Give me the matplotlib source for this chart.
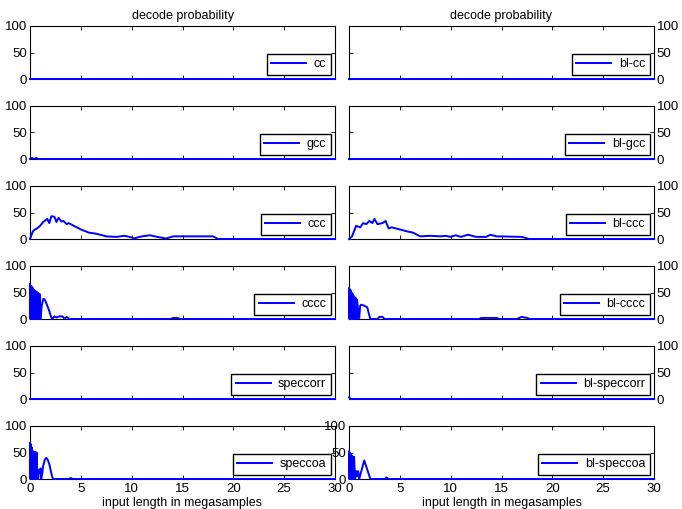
import matplotlib
matplotlib.use("Agg")
import matplotlib.pyplot as plt

plt.rcParams["font.family"] = ["Liberation Sans", "DejaVu Sans"]
plt.rcParams["font.size"] = 9

blue = '#0000FF'

# ---- data (input length in megasamples, decode probability %) ----
zero_x = [0.0, 30.0]
zero_y = [0.0, 0.0]

gcc_x = [0.0, 0.2, 0.4, 0.6, 0.8, 30.0]
gcc_y = [0.0, 2.0, 0.0, 2.0, 0.0, 0.0]

ccc_x = [0.0, 0.15, 0.3, 0.5, 0.7, 1.0, 1.3, 1.5, 1.7, 1.9, 2.1, 2.4, 2.6, 2.8, 3.1, 3.3,
         3.6, 3.8, 4.3, 5.0, 5.8, 6.5, 7.5, 8.5, 9.3, 10.0, 10.2, 11.0, 11.8, 12.5, 13.4,
         14.1, 15.0, 16.0, 17.0, 18.0, 18.5, 30.0]
ccc_y = [0.0, 8.0, 15.0, 18.0, 20.0, 25.0, 32.0, 35.0, 38.0, 30.0, 43.0, 42.0, 32.0, 40.0,
         33.0, 34.0, 28.0, 30.0, 25.0, 18.0, 12.0, 10.0, 5.0, 4.0, 6.0, 3.0, 1.0, 5.0,
         7.0, 4.0, 1.0, 5.0, 5.0, 5.0, 5.0, 5.0, 0.0, 0.0]

blccc_x = [0.0, 0.3, 0.7, 1.1, 1.4, 1.7, 2.0, 2.3, 2.5, 2.8, 3.3, 3.6, 3.9, 4.2, 5.0,
           5.8, 6.3, 7.0, 8.0, 9.0, 9.5, 10.0, 10.5, 11.0, 11.7, 12.5, 13.5, 13.9, 14.5,
           17.0, 17.7, 30.0]
blccc_y = [0.0, 5.0, 25.0, 22.0, 30.0, 28.0, 34.0, 30.0, 38.0, 28.0, 30.0, 34.0, 20.0,
           22.0, 18.0, 14.0, 12.0, 5.0, 6.0, 5.0, 6.0, 4.0, 7.0, 4.0, 8.0, 4.0, 4.0, 8.0,
           5.0, 4.0, 0.0, 0.0]

cccc_x = [0.0, 0.04, 0.08, 0.12, 0.16, 0.2, 0.24, 0.28, 0.32, 0.36, 0.4, 0.44, 0.48, 0.52,
          0.56, 0.6, 0.64, 0.68, 0.72, 0.76, 0.8, 0.84, 0.88, 0.92, 0.96, 1.0, 1.05, 1.15,
          1.3, 1.45, 1.6, 1.8, 1.9, 2.0, 2.1, 2.2, 2.4, 2.6, 2.9, 3.2, 3.4, 3.6, 3.9, 13.8,
          14.1, 14.5, 14.8, 30.0]
cccc_y = [66.0, 0.0, 63.0, 0.0, 61.0, 0.0, 59.0, 0.0, 57.0, 0.0, 55.0, 0.0, 54.0, 0.0,
          52.0, 0.0, 51.0, 0.0, 50.0, 0.0, 49.0, 0.0, 48.0, 0.0, 47.0, 0.0, 0.0, 25.0,
          38.0, 37.0, 30.0, 20.0, 15.0, 8.0, 3.0, 0.0, 5.0, 3.0, 5.0, 5.0, 0.0, 4.0, 0.0,
          0.0, 2.0, 2.0, 0.0, 0.0]

blcccc_x = [0.0, 0.04, 0.08, 0.12, 0.16, 0.2, 0.24, 0.28, 0.32, 0.36, 0.4, 0.44, 0.48,
            0.52, 0.56, 0.6, 0.64, 0.68, 0.72, 0.76, 0.8, 1.0, 1.1, 1.2, 1.5, 1.8, 1.95,
            2.1, 2.8, 3.0, 3.3, 3.5, 12.8, 13.0, 14.5, 14.8, 16.5, 17.0, 17.5, 17.8, 30.0]
blcccc_y = [58.0, 0.0, 56.0, 0.0, 54.0, 0.0, 50.0, 0.0, 48.0, 0.0, 45.0, 0.0, 43.0,
            0.0, 41.0, 0.0, 40.0, 0.0, 38.0, 0.0, 35.0, 0.0, 25.0, 27.0, 25.0, 22.0,
            10.0, 0.0, 0.0, 4.0, 4.0, 0.0, 0.0, 2.0, 2.0, 0.0, 0.0, 4.0, 2.0, 0.0, 0.0]

blspeccorr_x = [0.0, 0.2, 30.0]
blspeccorr_y = [3.0, 0.0, 0.0]

speccoa_x = [0.0, 0.04, 0.08, 0.12, 0.16, 0.2, 0.24, 0.28, 0.32, 0.36, 0.4, 0.44, 0.48,
             0.52, 0.56, 0.6, 0.65, 0.7, 0.8, 0.9, 1.0, 1.05, 1.1, 1.2, 1.3, 1.45, 1.6,
             1.75, 1.9, 2.05, 2.2, 2.3, 3.8, 4.0, 4.2, 30.0]
speccoa_y = [68.0, 0.0, 66.0, 0.0, 60.0, 0.0, 52.0, 0.0, 52.0, 0.0, 51.0, 0.0, 51.0,
             0.0, 50.0, 0.0, 50.0, 0.0, 0.0, 18.0, 12.0, 20.0, 0.0, 10.0, 25.0, 36.0,
             40.0, 36.0, 28.0, 15.0, 3.0, 0.0, 0.0, 2.0, 0.0, 0.0]

blspeccoa_x = [0.0, 0.04, 0.08, 0.12, 0.16, 0.2, 0.24, 0.28, 0.32, 0.36, 0.4, 0.44, 0.5,
               0.6, 0.7, 0.8, 0.9, 1.0, 1.5, 2.1, 3.5, 3.7, 3.9, 30.0]
blspeccoa_y = [52.0, 0.0, 50.0, 0.0, 46.0, 0.0, 44.0, 0.0, 43.0, 0.0, 42.0, 0.0, 42.0,
               0.0, 15.0, 5.0, 15.0, 0.0, 35.0, 0.0, 0.0, 3.0, 0.0, 0.0]

left_series = [('cc', zero_x, zero_y), ('gcc', gcc_x, gcc_y), ('ccc', ccc_x, ccc_y),
               ('cccc', cccc_x, cccc_y), ('speccorr', zero_x, zero_y),
               ('speccoa', speccoa_x, speccoa_y)]
right_series = [('bl-cc', zero_x, zero_y), ('bl-gcc', zero_x, zero_y),
                ('bl-ccc', blccc_x, blccc_y), ('bl-cccc', blcccc_x, blcccc_y),
                ('bl-speccorr', blspeccorr_x, blspeccorr_y),
                ('bl-speccoa', blspeccoa_x, blspeccoa_y)]

xticks = [0, 5, 10, 15, 20, 25, 30]
yticks = [0, 50, 100]

W, H = 682., 509.
fig = plt.figure(figsize=(W / 100., H / 100.), dpi=100)

row_tops = [26, 106, 186, 266, 346, 426]
ax_h = 53.
ax_w = 305.
col_left = [30., 349.]

for col, series in enumerate([left_series, right_series]):
    for row, (label, xs, ys) in enumerate(series):
        top = row_tops[row]
        ax = fig.add_axes([col_left[col] / W, 1 - (top + ax_h) / H, ax_w / W, ax_h / H])
        ax.plot(xs, ys, color=blue, linewidth=1.4, label=label, clip_on=False, zorder=5)
        ax.set_xlim(0, 30)
        ax.set_ylim(0, 100)
        ax.set_xticks(xticks)
        ax.set_yticks(yticks)
        last = (row == len(series) - 1)
        on_right = (col == 1 and not last)
        ax.tick_params(direction='in', top=True, right=True, length=3, width=0.6,
                       labelbottom=last, labelleft=not on_right, labelright=on_right,
                       pad=2, labelsize=9.5)
        ax.tick_params(axis='x', pad=3)
        for sp in ax.spines.values():
            sp.set_linewidth(0.8)
        if row == 0:
            ax.set_title('decode probability', fontsize=9, pad=5)
        if last:
            ax.set_xlabel('input length in megasamples', fontsize=9, labelpad=1)
        leg = ax.legend(loc='lower right', fancybox=False, edgecolor='black',
                        framealpha=1, fontsize=9, handlelength=2.8,
                        borderaxespad=0.35, borderpad=0.35, handletextpad=0.6)
        leg.get_frame().set_linewidth(1.0)

plt.savefig('out.png', dpi=100)
